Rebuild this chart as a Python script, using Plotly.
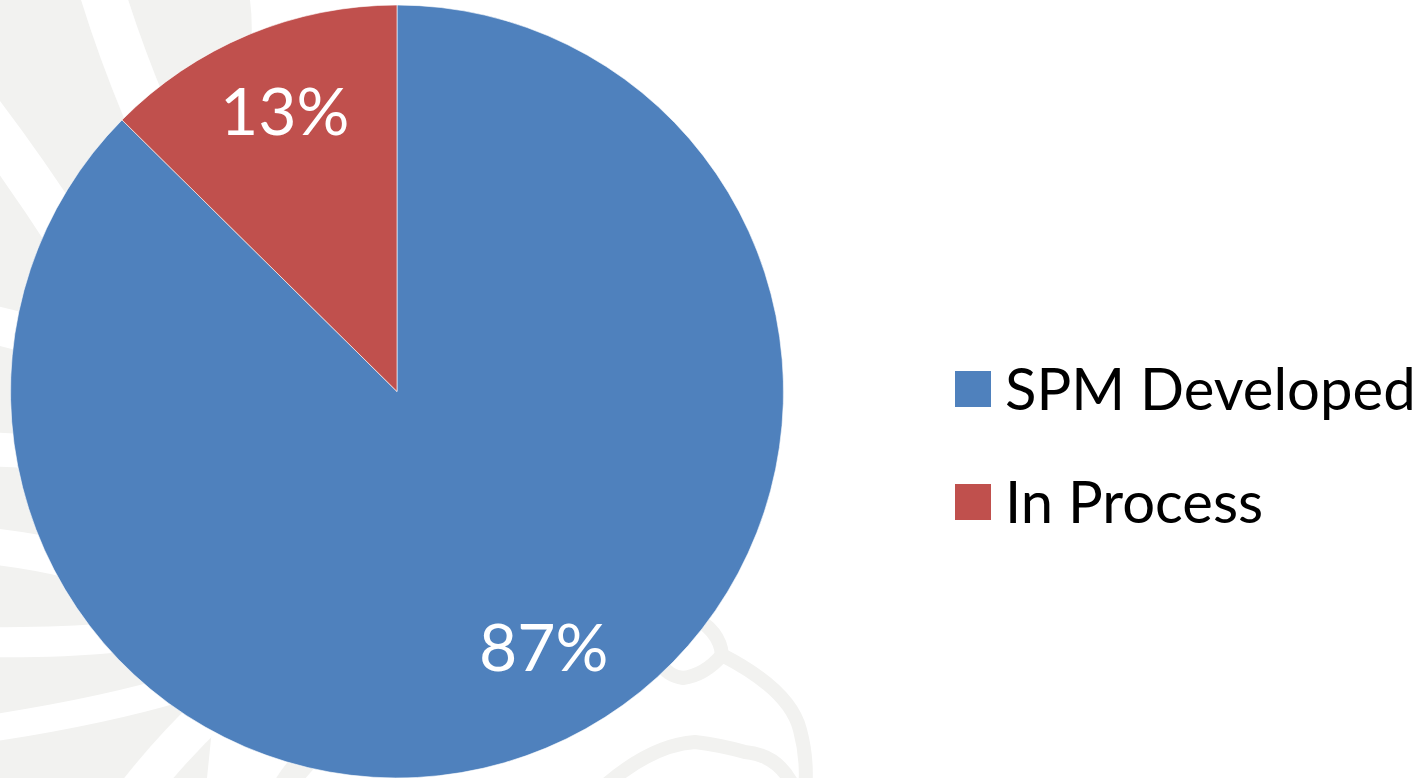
import plotly.graph_objects as go

categories = ["SPM Developed", "In Process"]
values = [87.4, 12.6]
colors = ["#4F81BD", "#C0504D"]

W, H = 1427, 778
FONT = "Lato"
WM = "#F2F2F0"  # watermark grey


def px(x, y):
    return f"{x / W:.5f},{1 - y / H:.5f}"


def path(cmds):
    out = []
    for letter, pts in cmds:
        out.append(letter + " ".join(px(x, y) for x, y in pts))
    return " ".join(out)


fig = go.Figure()

# ---- faint background watermark (decorative) ----
shapes = []
shapes.append(dict(type="path", xref="paper", yref="paper", layer="below",
                   path=path([("M", [(0, 0)]), ("L", [(250, 0)]),
                              ("Q", [(258, 60), (230, 150)]),
                              ("L", [(215, 700)]), ("L", [(207, 778)]),
                              ("L", [(0, 778)]), ("Z", [])]),
                   fillcolor=WM, line=dict(width=0)))
shapes.append(dict(type="path", xref="paper", yref="paper", layer="below",
                   path=path([("M", [(283, 790)]), ("Q", [(300, 760), (330, 740)])]),
                   line=dict(color=WM, width=24)))
stripes = [
    ([(100, -15), (118, 45), (145, 110)], 45),
    ([(-20, 111), (25, 170), (70, 240)], 44),
    ([(-20, 322), (20, 330), (45, 340)], 38),
    ([(-20, 449), (20, 450), (50, 453)], 34),
    ([(-20, 545), (30, 550), (70, 560)], 36),
    ([(-20, 642), (60, 643), (110, 638)], 30),
    ([(-20, 730), (100, 712), (180, 688)], 27),
    ([(135, 795), (170, 750), (210, 712)], 38),
]
for pts, w in stripes:
    shapes.append(dict(type="path", xref="paper", yref="paper", layer="below",
                       path=path([("M", [pts[0]]), ("Q", [pts[1], pts[2]])]),
                       line=dict(color="white", width=w)))
eagle = [
    [("M", [(690, 615)]), ("Q", [(720, 630), (722, 655)]),
     ("Q", [(790, 690), (800, 730)]), ("Q", [(808, 760), (805, 790)])],
    [("M", [(722, 655)]), ("Q", [(705, 675), (683, 678)]), ("Q", [(668, 676), (662, 665)])],
    [("M", [(600, 790)]), ("Q", [(650, 745), (695, 742)]), ("Q", [(720, 745), (745, 752)]),
     ("Q", [(780, 755), (795, 790)])],
]
for p in eagle:
    shapes.append(dict(type="path", xref="paper", yref="paper", layer="below",
                       path=path(p), line=dict(color=WM, width=14)))

fig.add_trace(go.Pie(
    labels=categories,
    values=values,
    sort=False,
    direction="clockwise",
    rotation=0,
    marker=dict(colors=colors, line=dict(color="rgba(255,255,255,0.6)", width=1)),
    textinfo="none",
    hoverinfo="label+percent",
    showlegend=False,
    domain=dict(x=[10.5 / W, 783.5 / W], y=[0, (H - 5) / H]),
))

# data labels (placed as in the reference)
label_pos = [(543, 645), (284, 109)]
total = sum(values)
for v, (lx, ly) in zip(values, label_pos):
    fig.add_annotation(
        x=lx / W, y=1 - ly / H, xref="paper", yref="paper",
        text=f"{round(100 * v / total)}%", showarrow=False,
        font=dict(family=FONT, size=66, color="white"),
        xanchor="center", yanchor="middle",
    )

# legend drawn manually (large squares)
legend_y = [389, 502]
for name, col, ly in zip(categories, colors, legend_y):
    shapes.append(dict(type="rect", xref="paper", yref="paper",
                       x0=955 / W, x1=991 / W, y0=1 - (ly + 18) / H, y1=1 - (ly - 18) / H,
                       fillcolor=col, line=dict(width=0)))
    fig.add_annotation(
        x=1003 / W, y=1 - (ly - 2) / H, xref="paper", yref="paper",
        text=name, showarrow=False, xanchor="left", yanchor="middle",
        font=dict(family=FONT, size=58, color="black"),
    )

fig.update_layout(
    width=W, height=H,
    margin=dict(l=0, r=0, t=0, b=0),
    paper_bgcolor="white", plot_bgcolor="white",
    shapes=shapes,
)
fig.write_html("out.html", config={"displayModeBar": False},
               post_script="document.body.style.margin='0';")
